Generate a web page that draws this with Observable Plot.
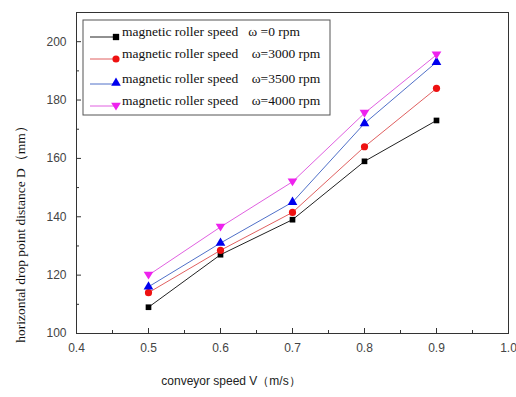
<!DOCTYPE html>
<html><head><meta charset="utf-8">
<script src="https://cdn.jsdelivr.net/npm/d3@7"></script>
<script src="https://cdn.jsdelivr.net/npm/@observablehq/plot@0.6"></script>
<style>
body{margin:0;background:#fff;}
#c{position:relative;width:516px;height:397px;}
</style></head><body><div id="c"></div>
<script>
const speeds = [0.5, 0.6, 0.7, 0.8, 0.9];
const seriesNames = ["magnetic roller speed   ω =0 rpm","magnetic roller speed    ω=3000 rpm","magnetic roller speed    ω=3500 rpm","magnetic roller speed    ω=4000 rpm"];
const d0 = [109, 127, 139, 159, 173];
const d3000 = [114, 128.5, 141.5, 164, 184];
const d3500 = [116, 131, 145, 172, 193];
const d4000 = [120, 136.5, 152, 175.5, 195.5];
const xTicks = [0.4, 0.5, 0.6, 0.7, 0.8, 0.9, 1.0];
const xMinor = [0.45, 0.55, 0.65, 0.75, 0.85, 0.95];
const yTicks = [100, 120, 140, 160, 180, 200];
const yMinor = [110, 130, 150, 170, 190];

const triDown = {draw(ctx, size){const r=Math.sqrt(size/1.3); const h=r*0.87; ctx.moveTo(0, r*0.8); ctx.lineTo(-h, -r*0.6); ctx.lineTo(h, -r*0.6); ctx.closePath();}};
const styles = [
  {line:"#222", fill:"#000", sym:"square"},
  {line:"#e06060", fill:"#ee1111", sym:"circle"},
  {line:"#5070c8", fill:"#0000ee", sym:"triangle"},
  {line:"#e060e0", fill:"#ee22ee", sym:triDown}
];
const all = [d0, d3000, d3500, d4000];
const rows = [];
all.forEach((arr, s) => arr.forEach((v, i) => rows.push({s, x: speeds[i], y: v})));

const W = 516, H = 397, mL = 76, mR = 8, mT = 12, mB = 64;
const innerW = W - mL - mR, innerH = H - mT - mB;
const tickFont = {fontSize: 12, fontFamily:"Liberation Sans, Arial", fill:"#444"};
const marks = [
  Plot.frame({stroke:"#333"}),
  Plot.axisX({ticks: xTicks, tickSize: 0, tickFormat: d => d.toFixed(1), tickPadding: 10, ...tickFont, label:null}),
  Plot.axisY({ticks: yTicks, tickSize: 0, tickPadding: 10, ...tickFont, label:null}),
  Plot.ruleX(xTicks, {insetTop: innerH - 5, stroke:"#333"}),
  Plot.ruleX(xMinor, {insetTop: innerH - 3, stroke:"#333"}),
  Plot.ruleY(yTicks, {insetRight: innerW - 5, stroke:"#333"}),
  Plot.ruleY(yMinor, {insetRight: innerW - 3, stroke:"#333"})
];
all.forEach((arr, s) => {
  const data = rows.filter(r => r.s === s);
  marks.push(Plot.line(data, {x:"x", y:"y", stroke: styles[s].line, strokeWidth: 1}));
  marks.push(Plot.dot(data, {x:"x", y:"y", fill: styles[s].fill, stroke:"none", symbol: () => styles[s].sym, r: s===0?3.2:3.6}));
});

const chart = Plot.plot({
  width: W, height: H,
  marginLeft: mL, marginRight: mR, marginTop: mT, marginBottom: mB,
  x: {domain:[0.4, 1.0]},
  y: {domain:[100, 210]},
  symbol: {type:"identity"},
  style: {background:"#fff", overflow:"visible"},
  marks
});
document.getElementById("c").appendChild(chart);

// Legend inside plot area
const svg = d3.select(chart);
const g = svg.append("g").attr("text-anchor","start");
g.append("rect").attr("x",83).attr("y",20).attr("width",247).attr("height",95).attr("fill","#fff").attr("stroke","#555");
const rowY = [32, 54, 79, 101];
const sym = [d3.symbolSquare, d3.symbolCircle, d3.symbolTriangle, triDown];
seriesNames.forEach((name, i) => {
  const y = rowY[i] + 5;
  g.append("line").attr("x1",90).attr("x2",116).attr("y1",y).attr("y2",y).attr("stroke",styles[i].line);
  g.append("path").attr("d", d3.symbol(sym[i], 40)()).attr("transform",`translate(116,${y - (i===2?1:0)})`).attr("fill",styles[i].fill);
  g.append("text").attr("x",122).attr("y",rowY[i]+1).attr("font-family","Liberation Serif, Times New Roman, serif").attr("font-size",13.5).attr("fill","#111").attr("dominant-baseline","middle").style("white-space","pre").text(name);
});
svg.append("text").attr("transform","translate(25,231) rotate(-90)").attr("text-anchor","middle").attr("font-family","Liberation Serif, serif").attr("font-size",13.5).attr("fill","#111").text("horizontal drop point distance D（mm）");
svg.append("text").attr("x",231).attr("y",385).attr("text-anchor","middle").attr("font-family","Liberation Sans, Arial").attr("font-size",12).attr("fill","#222").text("conveyor speed V（m/s）");
</script></body></html>
